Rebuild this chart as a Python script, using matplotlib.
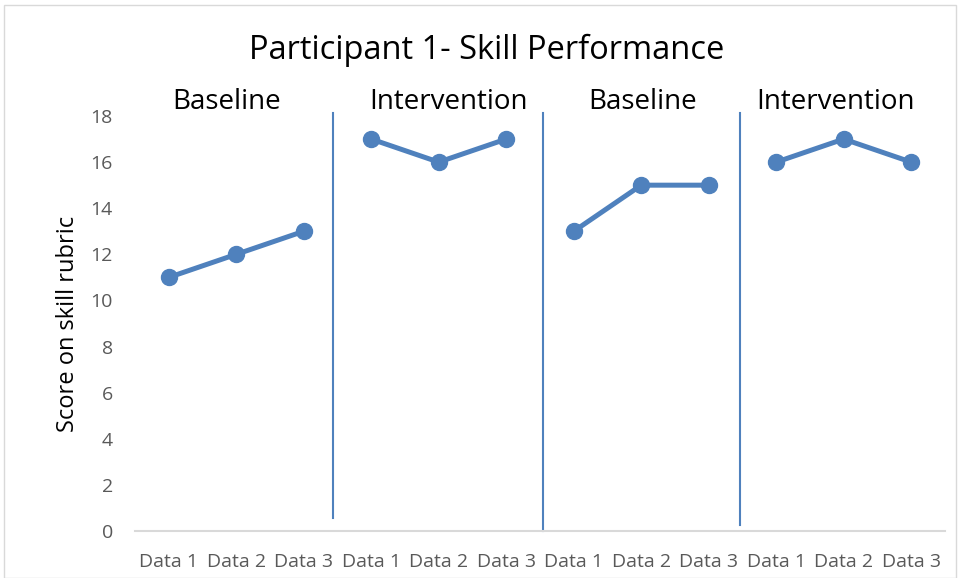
import numpy as np
import matplotlib.pyplot as plt
from matplotlib.patches import Rectangle

# Data
categories = ["Data 1", "Data 2", "Data 3"] * 4
phases = ["Baseline", "Intervention", "Baseline", "Intervention"]
phase_label_x = [0.86, 4.15, 7.02, 9.88]
scores = [[11, 12, 13], [17, 16, 17], [13, 15, 15], [16, 17, 16]]
dividers = [2.43, 5.54, 8.47]      # x positions of phase-change lines
divider_bottoms = [0.56, 0.0, 0.26]

blue = "#4f81bd"
plt.rcParams['font.family'] = ['Open Sans', 'DejaVu Sans']

fig = plt.figure(figsize=(9.58, 5.78), dpi=100)
fig.patches.append(Rectangle((0.004, 0.0), 0.994, 0.991, transform=fig.transFigure,
                             fill=False, edgecolor="#d9d9d9", linewidth=1))
ax = fig.add_axes([0.1409, 0.0813, 0.8455, 0.718])

for i, s in enumerate(scores):
    x = np.arange(3) + 3 * i
    ax.plot(x, s, color=blue, linewidth=3.6, marker="o", markersize=11.5, clip_on=False)
    ax.text(phase_label_x[i], 18.62, phases[i], ha="center", va="center", fontsize=20)

for d, b in zip(dividers, divider_bottoms):
    ax.plot([d, d], [b, 18.13], color=blue, linewidth=1.5, clip_on=False)

ax.set_xlim(-0.5, 11.5)
ax.set_ylim(0, 18)
ax.set_yticks(np.arange(0, 19, 2))
ax.set_xticks(np.arange(12))
ax.set_xticklabels(categories)
ax.tick_params(axis="both", length=0, labelsize=14, colors="#595959")
ax.tick_params(axis="x", pad=16)
ax.tick_params(axis="y", pad=16)
for side in ["top", "right", "left"]:
    ax.spines[side].set_visible(False)
ax.spines["bottom"].set_color("#d9d9d9")
ax.spines["bottom"].set_linewidth(1.5)

ax.set_ylabel("Score on skill rubric", fontsize=17)
ax.yaxis.set_label_coords(-0.068, 0.5)
fig.text(0.508, 0.913, "Participant 1- Skill Performance", ha="center", va="center",
         fontsize=23.5)

fig.savefig("out.png", dpi=100)
